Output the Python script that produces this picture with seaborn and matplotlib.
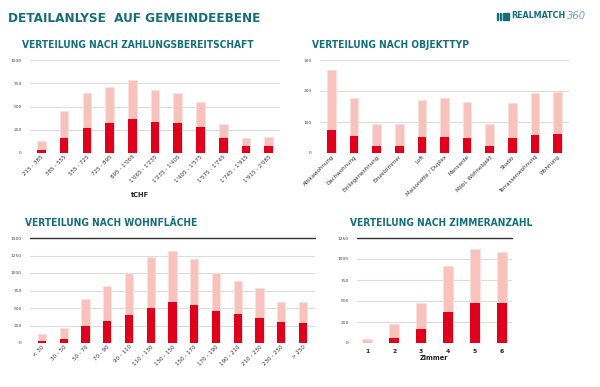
import pandas as pd
import matplotlib.pyplot as plt
import matplotlib.patches as mpatches
import seaborn as sns

# Zahlungsbereitschaft (tCHF)
pay_labels = ["215 - 385", "385 - 555", "555 - 725", "725 - 895", "895 - 1'065", "1'065 - 1'235",
              "1'235 - 1'405", "1'405 - 1'575", "1'575 - 1'745", "1'745 - 1'915", "1'915 - 2'085"]
pay_total = [130, 450, 650, 710, 790, 680, 650, 550, 310, 160, 170]
pay_match = [30, 160, 270, 320, 370, 330, 320, 280, 160, 75, 75]

# Objekttyp
obj_labels = ["Attikawohnung", "Dachwohnung", "Einliegerwohnung", "Einzelzimmer", "Loft",
              "Maisonette / Duplex", "Mansarde", "Möbl. Wohnobjekt", "Studio",
              "Terrassenwohnung", "Wohnung"]
obj_total = [268, 178, 95, 92, 172, 178, 165, 92, 160, 195, 198]
obj_match = [75, 55, 23, 22, 52, 52, 50, 22, 47, 58, 62]

# Wohnfläche
area_labels = ["< 30", "30 - 50", "50 - 70", "70 - 90", "90 - 110", "110 - 130", "130 - 150",
               "150 - 170", "170 - 190", "190 - 210", "210 - 230", "230 - 250", "> 250"]
area_total = [130, 220, 630, 820, 1000, 1230, 1310, 1200, 1000, 890, 790, 590, 580]
area_match = [30, 60, 240, 310, 400, 500, 580, 540, 460, 410, 360, 300, 290]

# Zimmeranzahl
room_labels = ["1", "2", "3", "4", "5", "6"]
room_total = [45, 225, 475, 920, 1120, 1085]
room_match = [0, 65, 165, 375, 480, 480]

TEAL = "#136f7c"
LIGHT = "#f7c3bc"
DARK = "#e0001b"

sns.set_style("white")
plt.rcParams["font.family"] = ["DejaVu Sans"]
HEAD = dict(family=["DejaVu Sans"], fontstretch="condensed", fontweight="bold", color=TEAL)

fig = plt.figure(figsize=(6, 3.87), dpi=100)


def draw(rect, labels, total, match, ymax, step, title, title_xy, rot=True, xlabel=None,
         topline=False, pad=0.5):
    ax = fig.add_axes(rect)
    df = pd.DataFrame({"cat": labels, "total": total, "match": match})
    sns.barplot(data=df, x="cat", y="total", order=labels, color=LIGHT, width=0.38,
                edgecolor="#fbe0dc", linewidth=0.6, saturation=1, ax=ax, zorder=2)
    sns.barplot(data=df, x="cat", y="match", order=labels, color=DARK, width=0.38,
                linewidth=0, saturation=1, ax=ax, zorder=3)
    ax.set_ylim(0, ymax)
    ax.set_xlim(-pad, len(labels) - 1 + pad)
    ax.set_yticks(range(0, ymax + 1, step))
    ax.yaxis.grid(True, color="#dcdcdc", linewidth=0.8, zorder=0)
    ax.set_axisbelow(True)
    for s in ax.spines.values():
        s.set_visible(False)
    if topline:
        ax.axhline(ymax, color="#333333", linewidth=1.0, clip_on=False, zorder=4)
    ax.tick_params(axis="y", labelsize=3.2, length=0, pad=6, colors="#444444")
    if rot:
        ax.tick_params(axis="x", labelsize=4.0, length=0, pad=1, colors="#333333")
        plt.setp(ax.get_xticklabels(), rotation=45, ha="right", rotation_mode="anchor")
    else:
        ax.tick_params(axis="x", labelsize=4.3, length=0, pad=4, colors="#222222")
        for t in ax.get_xticklabels():
            t.set_fontweight("bold")
    ax.set_ylabel("")
    if xlabel:
        ax.set_xlabel(xlabel, fontsize=4.8, fontweight="bold", color="#222222")
    else:
        ax.set_xlabel("")
    fig.text(title_xy[0], title_xy[1], title, fontsize=7.3, va="center", ha="left", **HEAD)
    return ax


ax1 = draw([30 / 600, 1 - 153 / 387, 250 / 600, 93 / 387], pay_labels, pay_total, pay_match,
           1000, 250, "VERTEILUNG NACH ZAHLUNGSBEREITSCHAFT", (22 / 600, 1 - 45 / 387),
           xlabel="tCHF")
ax1.xaxis.set_label_coords(110 / 250, -0.42)

draw([320 / 600, 1 - 153 / 387, 249 / 600, 93 / 387], obj_labels, obj_total, obj_match,
     300, 100, "VERTEILUNG NACH OBJEKTTYP", (312 / 600, 1 - 45 / 387))

draw([30 / 600, 1 - 343 / 387, 285 / 600, 105 / 387], area_labels, area_total, area_match,
     1500, 250, "VERTEILUNG NACH WOHNFLÄCHE", (25 / 600, 1 - 223 / 387), topline=True, pad=0.55)

ax4 = draw([357 / 600, 1 - 343 / 387, 155 / 600, 105 / 387], room_labels, room_total, room_match,
           1250, 250, "VERTEILUNG NACH ZIMMERANZAHL", (350 / 600, 1 - 223 / 387), rot=False,
           xlabel="Zimmer", topline=True, pad=0.38)
ax4.xaxis.labelpad = 1

fig.text(8 / 600, 1 - 18 / 387, "DETAILANLYSE  AUF GEMEINDEEBENE", fontsize=9.6,
         va="center", ha="left", **HEAD)

# logo
for x0, w in [(497, 1.5), (500, 1.5), (503, 6)]:
    fig.patches.append(mpatches.Rectangle((x0 / 600, 1 - 20 / 387), w / 600, 7 / 387,
                                          transform=fig.transFigure, color=TEAL))
fig.text(566 / 600, 1 - 16 / 387, "REALMATCH", fontsize=6.4, va="center", ha="right", **HEAD)
fig.text(567 / 600, 1 - 16 / 387, "360", fontsize=7.2, style="italic", color="#6fa7ae",
         va="center", ha="left")

fig.savefig("out.png", dpi=100)
